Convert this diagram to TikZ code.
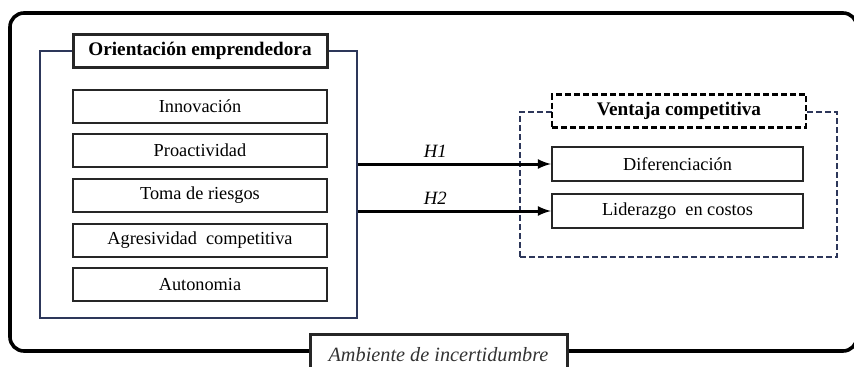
\documentclass[tikz,border=0pt]{standalone}
\usepackage{fontspec}
\setmainfont{Liberation Serif}
\newlength\px
\setlength\px{0.02342cm}
\definecolor{oeblue}{RGB}{45,55,90}
\tikzset{>=latex}
\tikzset{
  itembox/.style={draw=black!85,line width=1.4pt,fill=white,inner sep=0pt,
    minimum width=254\px,minimum height=33\px,font=\fontsize{12.2}{14}\selectfont},
  titlebox/.style={itembox,line width=2pt,font=\fontsize{12.8}{14}\selectfont\bfseries},
  dashbox/.style={draw=oeblue,line width=1.4pt,dash pattern=on 4pt off 2pt},
  arr/.style={->,line width=2pt},
  hyp/.style={font=\fontsize{12.5}{14}\selectfont\itshape,above}
}

\begin{document}
\begin{tikzpicture}[x=1\px,y=-1\px]
  \useasboundingbox (0,0) rectangle (854,366);
  \clip (0,0) rectangle (854,366);
  % ambiente
  \draw[line width=2.4pt,rounded corners=14\px] (10,13) rectangle (857,351);
  % orientacion emprendedora
  \node[draw=oeblue,line width=1.4pt,inner sep=0pt,minimum width=317\px,minimum height=267\px] (oe) at (198.5,184.5) {};
  \node[titlebox] (oetit) at (200,51) {Orientación emprendedora};
  \node[itembox] (inn) at (200,106.5) {Innovación};
  \node[itembox] (pro) at (200,150.5) {Proactividad};
  \node[itembox] (rie) at (200,195.5) {Toma de riesgos};
  \node[itembox] (agr) at (200,240.5) {Agresividad\ \ competitiva};
  \node[itembox] (aut) at (200,284.5) {Autonomia};
  % ventaja competitiva
  \node[dashbox,inner sep=0pt,minimum width=317\px,minimum height=145\px] (vc) at (678.5,184.5) {};
  \node[titlebox,dashbox,draw=black,fill=white] (vctit) at (679,111) {Ventaja competitiva};
  \node[itembox,minimum width=251\px,minimum height=34\px] (dif) at (677.5,164) {Diferenciación};
  \node[itembox,minimum width=251\px,minimum height=34\px] (lid) at (677.5,211) {Liderazgo\ \ en costos};
  % hipotesis
  \draw[arr] (oe.east |- dif) -- node[hyp,pos=0.4] {H1} (dif);
  \draw[arr] (oe.east |- lid) -- node[hyp,pos=0.4] {H2} (lid);
  \node[titlebox,font=\fontsize{13.5}{14}\selectfont\itshape,text=black!80,minimum width=257\px,minimum height=40\px,text depth=0pt] (amb) at (438.5,354) {Ambiente de incertidumbre};
\end{tikzpicture}
\end{document}
